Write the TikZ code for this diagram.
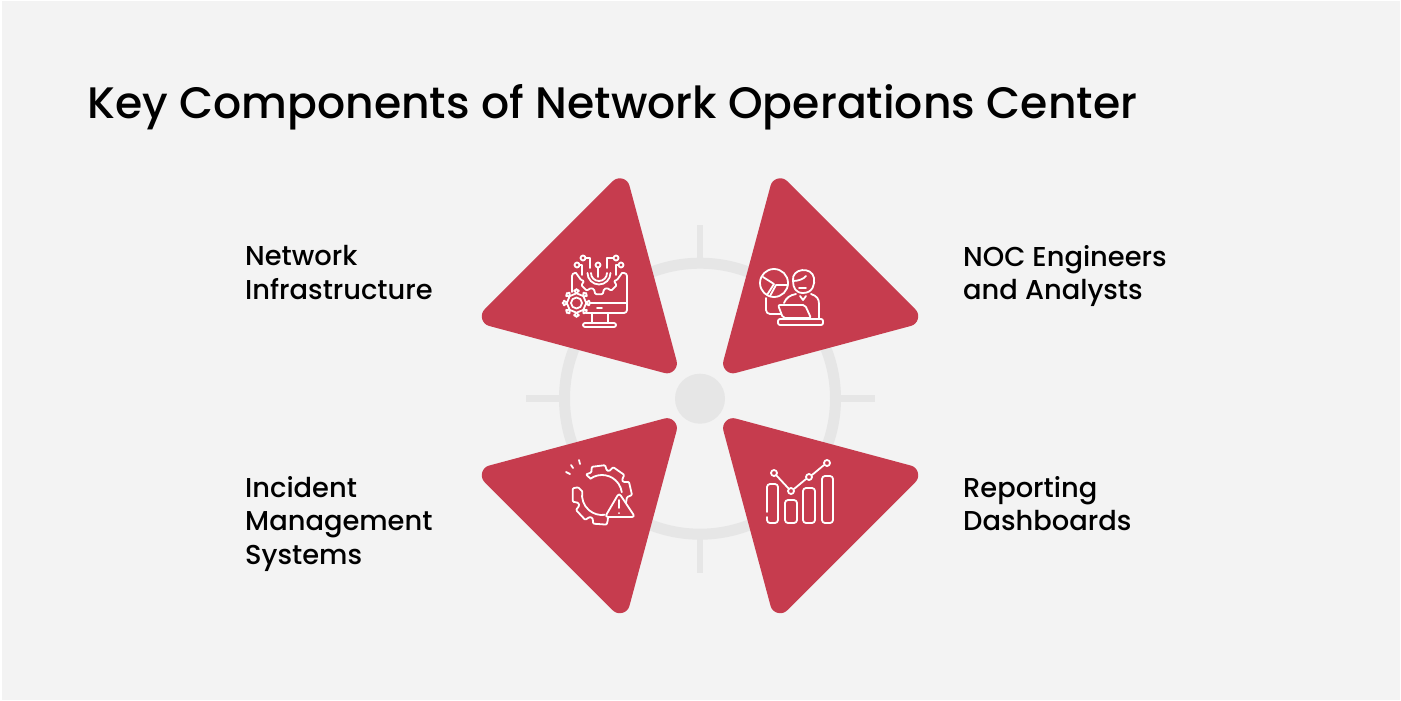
\documentclass[tikz,border=0pt]{standalone}
\usepackage{fontspec}
\setmainfont{Poppins}
\newfontfamily\medfont{Poppins Medium}
\usepackage{tikz}
\definecolor{pagegray}{HTML}{F3F3F3}
\definecolor{ringgray}{HTML}{E6E6E6}
\definecolor{nocred}{HTML}{C63C4E}
\tikzset{
  tri/.style={fill=nocred, draw=nocred, line width=20pt, line join=round},
  label/.style={anchor=north west, align=left, inner sep=0pt, font=\medfont\fontsize{27.3}{33.6}\selectfont},
  icon/.style={draw=white, line width=1.8pt, line cap=round, line join=round},
}
\begin{document}
\begin{tikzpicture}[x=1pt, y=-1pt]
  \useasboundingbox (0,0) rectangle (1401,701);
  \fill[white] (0,0) rectangle (1401,701);
  \fill[pagegray] (1.5,1.5) rectangle (1399.5,699.5);

  % target behind the triangles
  \draw[ringgray, line width=11pt] (700,398.7) circle (135.5);
  \fill[ringgray] (700,398.7) circle (25);
  \draw[ringgray, line width=6.5pt]
    (700,225) -- (700,262)
    (700,534) -- (700,573)
    (526,398.7) -- (564,398.7)
    (836,398.7) -- (875,398.7);

  \draw[tri] (619.8,188.3) -- (491.8,316.3) -- (666.9,363.3) -- cycle;
  \draw[tri] (780.2,188.3) -- (908.2,316.3) -- (733.1,363.3) -- cycle;
  \draw[tri] (619.8,603.2) -- (491.8,475.2) -- (666.9,428.2) -- cycle;
  \draw[tri] (780.2,603.2) -- (908.2,475.2) -- (733.1,428.2) -- cycle;

  \node[anchor=base west, inner sep=0pt, font=\medfont\fontsize{44.1}{50}\selectfont] (title) at (87,118)
    {Key Components of Network Operations Center};

  \node[label] (infra) at (245,245) {Network\\Infrastructure};
  \node[label] (staff) at (963,245) {NOC Engineers\\and Analysts};
  \node[label] (incident) at (245,476) {Incident\\Management\\Systems};
  \node[label] (report) at (963,476) {Reporting\\Dashboards};

  % monitor icon
  \begin{scope}[icon]
    \draw[rounded corners=3pt] (572,292) -- (572,273) -- (576,273);
    \draw[rounded corners=3pt] (586,313) -- (627,313) -- (627,273) -- (622,273);
    \draw (591,303) -- (627,303);
    \draw (597,308) -- (602,308);
    \draw (592,313) -- (592,323) (608,313) -- (608,323);
    \draw[rounded corners=2pt] (583,323) rectangle (616,327);
    \draw[rounded corners=1pt] (576,273) -- (581,280)
      \foreach \a in {135,90,45} { -- ([shift={(599,273)}]\a+17:17) -- ([shift={(599,273)}]\a+10:21.5) -- ([shift={(599,273)}]\a-10:21.5) -- ([shift={(599,273)}]\a-17:17) }
      -- (617,280) -- (622,273);
    \draw (587.5,273) arc (180:0:11.5);
    \draw (591,273) arc (180:0:8);
    \draw[rounded corners=2pt] ([shift={(576.5,303)}]13:11)
      \foreach \a in {0,45,...,315} { -- ([shift={(576.5,303)}]\a+13:11) -- ([shift={(576.5,303)}]\a+8:14) -- ([shift={(576.5,303)}]\a-8:14) -- ([shift={(576.5,303)}]\a-13:11) } -- cycle;
    \draw (576.5,303) circle (5.5);
    \draw (586,258) -- (590,258) -- (590,268);
    \draw (613,258) -- (607,258) -- (607,268);
    \draw (598,268) -- (598,277);
    \draw (580,265) -- (582,265) -- (582,275);
    \draw (618,265) -- (616,265) -- (616,275);
    \draw (583,258) circle (2.5) (616,258) circle (2.5)
      (598,265) circle (2.5) (577,265) circle (2.5) (621,265) circle (2.5);
  \end{scope}

  % engineer icon
  \begin{scope}[icon]
    \draw (774,283) circle (14);
    \draw (763,277) -- (774,284) -- (767,295);
    \draw (770,296) -- (776,285) -- (788,285);
    \draw[rounded corners=4pt] (766,298) -- (766,314) -- (781,314);
    \draw[rounded corners=2pt] (778,305) -- (805,305) -- (811,318) -- (783,318) -- cycle;
    \draw[rounded corners=2pt] (778,319) rectangle (823,325);
    \draw (784,303) .. controls (786,298) and (790,295) .. (796,294);
    \draw (811,294) .. controls (817,296) and (819,299) .. (819,304) -- (819,318);
    \draw (793,281) .. controls (791,268) and (812,266) .. (814,278) .. controls (815,284) and (813,293) .. (803,293) .. controls (796,293) and (793,288) .. (793,281);
    \draw (793,281) .. controls (798,281) and (804,279) .. (806,276);
    \draw (799,288) -- (806,288);
    \draw (800,296) -- (803,300) -- (806,296);
  \end{scope}

  % alert gear icon
  \begin{scope}[icon]
    \draw[rounded corners=1pt] ([shift={(602,495)}]235:20) -- ([shift={(602,495)}]232:26)
      \foreach \a in {263,305,347} { -- ([shift={(602,495)}]\a-18:25) -- ([shift={(602,495)}]\a-13:30) -- ([shift={(602,495)}]\a+13:30) -- ([shift={(602,495)}]\a+18:25) }
      -- (626,503);
    \draw ([shift={(602,495)}]235:20) arc (235:352:20);
    \draw[rounded corners=1pt] (608,519)
      \foreach \a in {94,137,180} { -- ([shift={(602,495)}]\a-18:25) -- ([shift={(602,495)}]\a-13:30) -- ([shift={(602,495)}]\a+13:30) -- ([shift={(602,495)}]\a+18:25) }
      -- ([shift={(602,495)}]190:20);
    \draw ([shift={(602,495)}]190:20) arc (190:82:20);
    \draw[rounded corners=3pt] (619,493) -- (635,517) -- (605,517) -- cycle;
    \draw (619,500) -- (619,508) (619,513) -- (619,513.2);
    \draw (566,472) -- (570,474) (571,465) -- (573,468) (579,460) -- (580,464);
  \end{scope}

  % bars icon
  \begin{scope}[icon]
    \draw[rounded corners=3pt] (767,512) -- (767,484) -- (778,484) -- (778,523) -- (767,523) -- (767,517);
    \draw[rounded corners=3pt] (785,500) rectangle (797,523);
    \draw[rounded corners=3pt] (803,488) rectangle (815,523);
    \draw[rounded corners=3pt] (822,476) rectangle (833,523);
    \draw (776,475) -- (789,489) (794,489) -- (806,479) (812,475) -- (824,465);
    \draw (774,473) circle (3) (791,491) circle (3) (809,477) circle (3) (827,463) circle (3);
  \end{scope}
\end{tikzpicture}
\end{document}
